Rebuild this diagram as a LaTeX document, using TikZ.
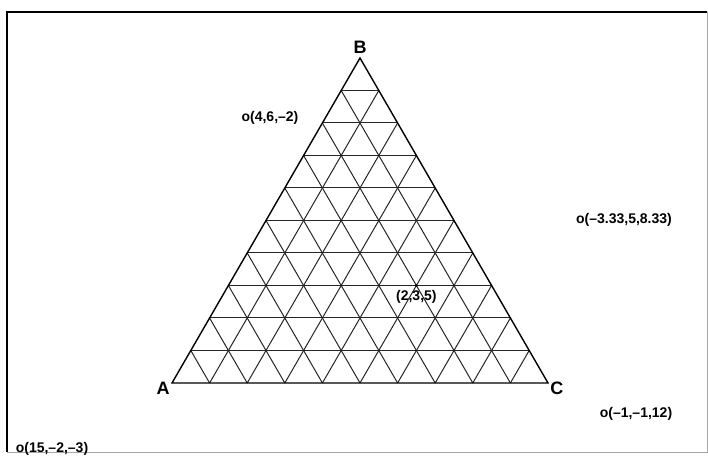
\documentclass[tikz,border=0pt]{standalone}
\usepackage{fontspec}
\setsansfont{Liberation Sans}
\usetikzlibrary{calc,positioning}

\begin{document}
\begin{tikzpicture}[x=0.5pt,y=-0.5pt]
\tikzset{
  grid line/.style={line width=0.5pt, black!85},
  corner label/.style={font=\sffamily\bfseries\fontsize{9}{9}\selectfont, inner sep=1pt},
  point label/.style={font=\sffamily\bfseries\fontsize{7}{7}\selectfont, inner sep=1pt}}
\useasboundingbox (0,0) rectangle (708,458);

  % frame of the plate
  \draw[line width=1pt] (7,452) -- (7,12) -- (707,12);
  \draw[line width=0.4pt, black!35] (7,452) -- (707,452) -- (707,12);

  \coordinate (A) at (172,383);
  \coordinate (B) at (360,58);
  \coordinate (C) at (548,383);

  % lattice, ten parts on each side
  \foreach \i in {1,...,9} {
    \draw[grid line] ($(B)!\i/10!(A)$) -- ($(B)!\i/10!(C)$);
    \draw[grid line] ($(C)!\i/10!(A)$) -- ($(C)!\i/10!(B)$);
    \draw[grid line] ($(A)!\i/10!(B)$) -- ($(A)!\i/10!(C)$);
  }
  \draw[line width=0.7pt] (A) -- (B) -- (C) -- cycle;

  \node[corner label, left=0pt of A, yshift=-2.5pt] (labA) {A};
  \node[corner label, above=1pt of B] (labB) {B};
  \node[corner label, right=0pt of C, yshift=-2.5pt] (labC) {C};

  % the point inside
  \coordinate (P) at (barycentric cs:A=2,B=3,C=5);
  \fill (P) circle (1.6);
  \node[point label, below=1pt of P] (labP) {(2,3,5)};

  % points outside
  \node[point label] (p1) at (270,118) {o(4,6,--2)};
  \node[point label] (p2) at (624,220) {o(--3.33,5,8.33)};
  \node[point label] (p3) at (636,414) {o(--1,--1,12)};
  \node[point label] (p4) at (52,449) {o(15,--2,--3)};
\end{tikzpicture}
\end{document}
